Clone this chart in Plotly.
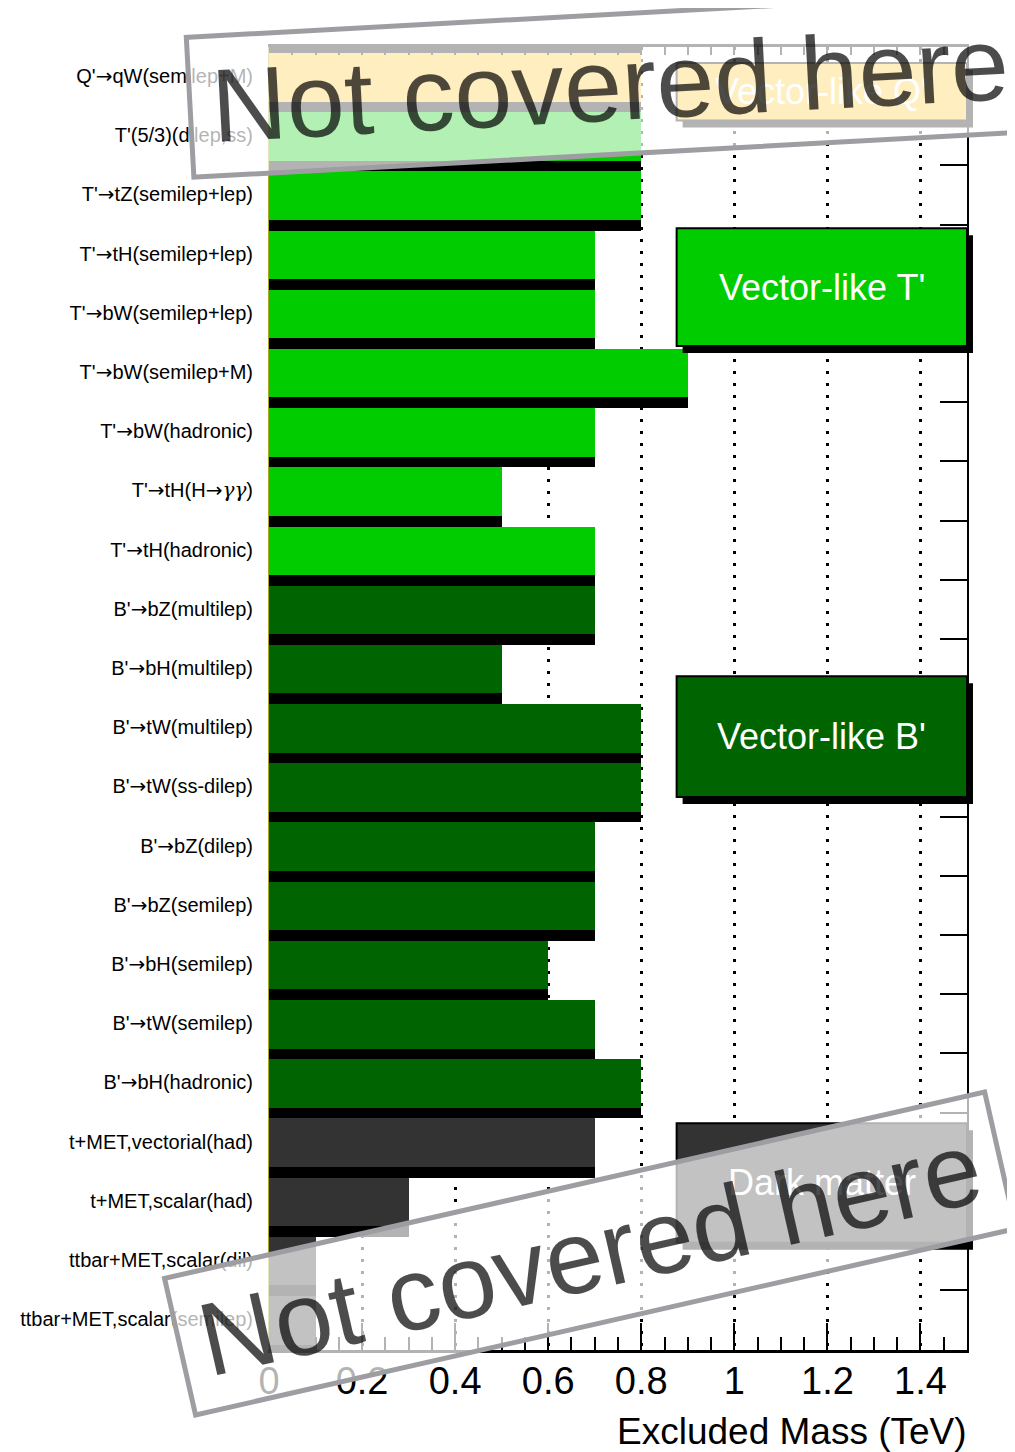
import plotly.graph_objects as go

# ---------------- data ----------------
CATEGORIES = [
    "Q'→qW(semilep+M)",
    "T'(5/3)(dilep,ss)",
    "T'→tZ(semilep+lep)",
    "T'→tH(semilep+lep)",
    "T'→bW(semilep+lep)",
    "T'→bW(semilep+M)",
    "T'→bW(hadronic)",
    "T'→tH(H→γγ)",
    "T'→tH(hadronic)",
    "B'→bZ(multilep)",
    "B'→bH(multilep)",
    "B'→tW(multilep)",
    "B'→tW(ss-dilep)",
    "B'→bZ(dilep)",
    "B'→bZ(semilep)",
    "B'→bH(semilep)",
    "B'→tW(semilep)",
    "B'→bH(hadronic)",
    "t+MET,vectorial(had)",
    "t+MET,scalar(had)",
    "ttbar+MET,scalar(dil)",
    "ttbar+MET,scalar(semilep)",
]
EXCLUDED_TEV = [0.8, 0.8, 0.8, 0.7, 0.7, 0.9, 0.7, 0.5, 0.7,
                0.7, 0.5, 0.8, 0.8, 0.7, 0.7, 0.6, 0.7, 0.8,
                0.7, 0.3, 0.1, 0.1]
GROUP = ["Q"] + ["T"] * 8 + ["B"] * 9 + ["DM"] * 4
GROUP_NAMES = ["Q", "T", "B", "DM"]
GROUP_LABELS = ["Vector-like Q'", "Vector-like T'", "Vector-like B'", "Dark matter"]
X_TICKS = [0, 0.2, 0.4, 0.6, 0.8, 1.0, 1.2, 1.4]
X_TICK_LABELS = ["0", "0.2", "0.4", "0.6", "0.8", "1", "1.2", "1.4"]
X_TITLE = "Excluded Mass (TeV)"
OVERLAY_TEXT = "Not covered here"

# ---------------- style / layout ----------------
FONT = "Liberation Sans, Arial, Helvetica, sans-serif"
COLORS = {"Q": "rgb(255,198,45)", "T": "#00cc00", "B": "#006400", "DM": "#333333"}
PAGE = 8  # default body margin of the html page
W, H = 1015 - PAGE, 1452 - PAGE
# plot area in screen pixels: x 267..967, y 47..1350
SX0, SX1, SY0, SY1 = 267, 967, 47, 1350
ML, MT = SX0 - PAGE, SY0 - PAGE
MR = W - (SX1 - PAGE)
MB = H - (SY1 - PAGE)
PW, PH = SX1 - SX0, SY1 - SY0
ROW_PX = 59.19
U_TOP = -6 / ROW_PX
U_BOT = U_TOP + PH / ROW_PX
BAR_H = 0.82
SHADOW_DY = 0.18
X_MAX = 1.5

# group legend boxes: (row start, row end) in row units, left edge in TeV
BOX_ROWS = {"Q": (0.17, 1.14), "T": (2.96, 4.95), "B": (10.53, 12.57), "DM": (18.08, 20.10)}
BOX_X0 = 0.876


def yp(u):
    return (U_BOT - u) / (U_BOT - U_TOP)


def xp(v):
    return v / X_MAX


def label_markup(s):
    s = s.replace("→", '<span style="font-family:DejaVu Sans">→</span>')
    s = s.replace("γγ", '<span style="font-family:DejaVu Serif;font-style:italic">γγ</span>')
    return s


n = len(CATEGORIES)
rows = list(range(n))
bar_colors = [COLORS[g] for g in GROUP]

fig = go.Figure()
# drop shadows
fig.add_trace(go.Bar(
    orientation="h", x=EXCLUDED_TEV, y=[r + BAR_H / 2 + SHADOW_DY for r in rows],
    width=BAR_H, marker=dict(color="black", line=dict(width=0)),
    hoverinfo="skip", showlegend=False))
# bars
fig.add_trace(go.Bar(
    orientation="h", x=EXCLUDED_TEV, y=[r + BAR_H / 2 for r in rows],
    width=BAR_H, marker=dict(color=bar_colors, line=dict(width=0)),
    hoverinfo="skip", showlegend=False))
# dummy trace for overlay axes (top ticks, right ticks)
fig.add_trace(go.Scatter(x=[None], y=[None], xaxis="x2", yaxis="y2",
                         hoverinfo="skip", showlegend=False))

shapes = []
# dark band above first row
shapes.append(dict(type="rect", xref="x", yref="y", x0=0, x1=EXCLUDED_TEV[0],
                   y0=U_TOP, y1=0, fillcolor="black", line=dict(width=0), layer="below"))

annotations = []
sdx, sdy = 6 / PW, 7 / PH
for g, lab in zip(GROUP_NAMES, GROUP_LABELS):
    u0, u1 = BOX_ROWS[g]
    x0, x1 = xp(BOX_X0), xp(X_MAX)
    y0, y1 = yp(u1), yp(u0)
    shapes.append(dict(type="rect", xref="paper", yref="paper",
                       x0=x0 + sdx, x1=x1 + sdx, y0=y0 - sdy, y1=y1 - sdy,
                       fillcolor="black", line=dict(width=0), layer="above"))
    shapes.append(dict(type="rect", xref="paper", yref="paper",
                       x0=x0, x1=x1, y0=y0, y1=y1,
                       fillcolor=COLORS[g], line=dict(color="black", width=2), layer="above"))
    annotations.append(dict(text=lab, xref="paper", yref="paper",
                            x=(x0 + x1) / 2, y=(y0 + y1) / 2, xanchor="center", yanchor="middle",
                            showarrow=False, font=dict(family=FONT, size=36, color="white")))

# axis title
annotations.append(dict(text=X_TITLE, xref="paper", yref="paper", x=1.003, y=-(1432 - SY1) / PH,
                        xanchor="right", yanchor="middle", showarrow=False,
                        font=dict(family=FONT, size=37, color="black")))

# "Not covered here" overlays (centres in screen pixels)
for (cx, cy, ang) in [(609, 85, -3.1), (589, 1253, -12.8)]:
    annotations.append(dict(
        text=OVERLAY_TEXT, xref="paper", yref="paper",
        x=(cx - SX0) / PW, y=(SY1 - cy) / PH, xanchor="center", yanchor="middle",
        showarrow=False, textangle=ang, width=836, height=135,
        bgcolor="rgba(255,255,255,0.7)", bordercolor="rgb(158,158,162)", borderwidth=5, borderpad=0,
        font=dict(family=FONT, size=104, color="rgba(0,0,0,0.7)")))

fig.update_layout(
    width=W, height=H, autosize=False,
    margin=dict(l=ML, r=MR, t=MT, b=MB, pad=0),
    paper_bgcolor="white", plot_bgcolor="white",
    barmode="overlay", bargap=0,
    font=dict(family=FONT, color="black"),
    showlegend=False,
    shapes=shapes, annotations=annotations,
    xaxis=dict(range=[0, X_MAX], tickmode="array", tickvals=X_TICKS, ticktext=X_TICK_LABELS,
               ticks="inside", ticklen=27, tickwidth=2, tickcolor="black",
               minor=dict(tickmode="linear", tick0=0, dtick=0.05, ticks="inside", ticklen=13,
                          tickwidth=2, tickcolor="black", showgrid=False),
               showgrid=True, gridcolor="black", gridwidth=3, griddash="3px,9px",
               showline=True, linecolor="black", linewidth=3, zeroline=False,
               ticklabelstandoff=-5,
               tickfont=dict(family=FONT, size=38, color="black"), fixedrange=True),
    yaxis=dict(range=[U_BOT, U_TOP], tickmode="array",
               tickvals=[r + 0.39 for r in rows], ticktext=[label_markup(c) for c in CATEGORIES],
               ticks="", showline=True, linecolor="#a8a820", linewidth=1,
               showgrid=False, zeroline=False, ticklabelstandoff=11,
               tickfont=dict(family=FONT, size=20, color="black"), fixedrange=True),
    xaxis2=dict(overlaying="x", side="top", anchor="y2", range=[0, X_MAX],
                tickmode="linear", tick0=0, dtick=0.05, ticks="inside", ticklen=8, tickwidth=2,
                tickcolor="black", showticklabels=False, showgrid=False, zeroline=False,
                showline=True, linecolor="black", linewidth=3),
    yaxis2=dict(overlaying="y", side="right", anchor="x2", range=[U_BOT, U_TOP],
                tickmode="array", tickvals=[r + 0.9 for r in rows[:-1]],
                ticks="inside", ticklen=27, tickwidth=2, tickcolor="black",
                showticklabels=False, showgrid=False, zeroline=False,
                showline=True, linecolor="black", linewidth=2),
)

fig.write_html("out.html")
